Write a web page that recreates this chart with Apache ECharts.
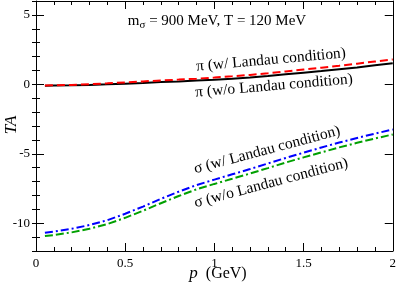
<!DOCTYPE html>
<html><head><meta charset="utf-8">
<script src="https://cdn.jsdelivr.net/npm/echarts@6/dist/echarts.min.js"></script>
<style>html,body{margin:0;padding:0;background:#fff}#c{width:399px;height:284px}</style>
</head><body><div id="c"></div>
<script>
const pValues = [0.05,0.1,0.2,0.3,0.4,0.5,0.6,0.7,0.8,0.9,1.0,1.1,1.2,1.3,1.4,1.5,1.6,1.7,1.8,1.9,2.0];
const piWithLandau = [-0.08,-0.07,-0.04,0.01,0.07,0.14,0.21,0.28,0.34,0.41,0.49,0.58,0.68,0.8,0.93,1.07,1.2,1.34,1.49,1.64,1.79];
const piWithoutLandau = [-0.1,-0.09,-0.07,-0.04,0.0,0.05,0.1,0.16,0.21,0.27,0.33,0.41,0.5,0.6,0.72,0.84,0.96,1.09,1.22,1.37,1.52];
const sigmaWithLandau = [-10.68,-10.6,-10.4,-10.13,-9.78,-9.32,-8.8,-8.25,-7.73,-7.25,-6.86,-6.48,-6.1,-5.7,-5.3,-4.92,-4.55,-4.19,-3.86,-3.55,-3.25];
const sigmaWithoutLandau = [-10.92,-10.85,-10.66,-10.4,-10.06,-9.61,-9.1,-8.56,-8.04,-7.56,-7.17,-6.8,-6.42,-6.03,-5.63,-5.26,-4.9,-4.54,-4.21,-3.9,-3.61];
const yMajorTicks = [-10,-5,0,5];
const xTickLabels = ['0','0.5','1','1.5','2'];

const F = 'Liberation Serif';
const chart = echarts.init(document.getElementById('c'));
const pair = arr => pValues.map((p,i)=>[p,arr[i]]);
function xAx(pos, labels){
  return {type:'value',min:0,max:2,interval:0.5,position:pos,
    axisLine:{show:true,onZero:false,lineStyle:{color:'#000',width:1}},
    axisTick:{show:true,inside:true,length:8,lineStyle:{color:'#000'}},
    minorTick:{show:true,splitNumber:5,length:4,lineStyle:{color:'#000'}},
    splitLine:{show:false},
    axisLabel:{show:labels,color:'#000',fontFamily:F,fontSize:13,margin:6,
      formatter:v=>xTickLabels[Math.round(v*2)]}};
}
function yMajor(pos, labels){
  return {type:'value',min:-12,max:6,position:pos,
    axisLine:{show:true,onZero:false,lineStyle:{color:'#000',width:1}},
    axisTick:{show:true,inside:true,length:8,customValues:yMajorTicks,lineStyle:{color:'#000'}},
    splitLine:{show:false},
    axisLabel:{show:labels,customValues:yMajorTicks,color:'#000',fontFamily:F,fontSize:13,margin:6,
      formatter:v=>String(v)}};
}
function yMinor(pos){
  return {type:'value',min:-12,max:6,interval:1,position:pos,
    axisLine:{show:false},
    axisTick:{show:true,inside:true,length:4,lineStyle:{color:'#000'}},
    splitLine:{show:false},axisLabel:{show:false}};
}
const T = (x,y,rot,text) => ({type:'text',x:x,y:y,rotation:rot,
  style:{text:text,font:'15.5px '+F,fill:'#000',align:'center',verticalAlign:'middle'}});
chart.setOption({
  animation:false,
  grid:{left:36,right:4,top:1,bottom:33,show:false},
  xAxis:[xAx('bottom',true), xAx('top',false)],
  yAxis:[yMajor('left',true), yMajor('right',false), yMinor('left'), yMinor('right')],
  series:[
    {type:'line',data:pair(piWithoutLandau),showSymbol:false,lineStyle:{color:'#000',width:2,type:'solid'}},
    {type:'line',data:pair(piWithLandau),showSymbol:false,lineStyle:{color:'#ff0000',width:2,type:[8,4]}},
    {type:'line',data:pair(sigmaWithoutLandau),showSymbol:false,lineStyle:{color:'#00a000',width:2,type:[8,3,8,3,2,3]}},
    {type:'line',data:pair(sigmaWithLandau),showSymbol:false,lineStyle:{color:'#0000ff',width:2,type:[8,3,2,3]}}
  ],
  graphic:[
    {type:'text',x:217,y:21,style:{text:'m{s|σ} = 900 MeV, T = 120 MeV',font:'15px '+F,fill:'#000',align:'center',verticalAlign:'middle',
      rich:{s:{fontFamily:F,fontSize:11,padding:[9,0,0,0]}}}},
    T(271,60,0.09,'π (w/ Landau condition)'),
    T(274,86,0.085,'π (w/o Landau condition)'),
    T(267,150,0.26,'σ (w/ Landau condition)'),
    T(271,183,0.26,'σ (w/o Landau condition)'),
    {type:'text',x:12,y:125,rotation:Math.PI/2,style:{text:'TA',font:'italic 17px '+F,fill:'#000',align:'center',verticalAlign:'middle'}},
    {type:'text',x:218,y:274,style:{text:'{i|p}  (GeV)',font:'16px '+F,fill:'#000',align:'center',verticalAlign:'middle',
      rich:{i:{fontStyle:'italic',fontFamily:F,fontSize:17}}}}
  ]
});
</script></body></html>
